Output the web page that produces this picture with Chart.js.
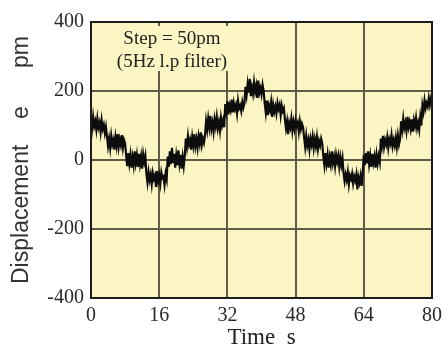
<!DOCTYPE html>
<html>
<head>
<meta charset="utf-8">
<script src="https://cdn.jsdelivr.net/npm/chart.js@4"></script>
<style>
  html, body { margin: 0; padding: 0; background: #fff; }
  #wrap { width: 448px; height: 347px; }
</style>
</head>
<body>
<div id="wrap"><canvas id="myChart" width="448" height="347"></canvas></div>
<script>
// 采样间隔 (s)
const sampleStep = 0.25;

// 位移数据 (pm)，每 0.25 s 一个点，按台阶分行
const displacement = [
  118, 92, 125, 98, 112, 88, 120, 95, 108, 82, 115, 90, 102, 78, 96,
  68, 40, 62, 35, 70, 45, 58, 30, 66, 42, 75, 38, 60, 44, 72, 36, 58, 48,
  12, -18, 20, -10, 15, -22, 8, -15, 25, -8, 14, -20, 18, -12, 10, -25, 16, -5, 12,
  -40, -65, -35, -58, -42, -70, -38, -55, -45, -78, -32, -60, -44, -68, -36, -52, -48, -72, -40, -56,
  10, -20, 25, -12, 35, -8, 18, -22, 12, -15, 28, -10, 15, -25, 8, -18, 12,
  62, 38, 70, 45, 58, 30, 66, 42, 75, 40, 60, 35, 68, 48, 80, 44, 62, 50, 72,
  112, 88, 120, 95, 128, 90, 108, 82, 118, 98, 125, 92, 110, 85, 122, 100, 115, 95,
  162, 140, 170, 132, 158, 145, 175, 138, 165, 148, 160, 135, 172, 150, 158, 142, 168, 152, 165,
  212, 188, 220, 195, 235, 185, 210, 192, 225, 198, 215, 180, 230, 195, 208, 190, 218, 200,
  165, 138, 172, 130, 158, 145, 168, 125, 160, 140, 155, 135, 165, 148, 160, 130, 158, 142, 150,
  118, 92, 112, 75, 108, 95, 120, 85, 110, 90, 115, 98, 108, 82, 112, 90, 105, 95,
  65, 38, 70, 42, 58, 30, 62, 45, 68, 35, 60, 40, 66, 32, 55, 42, 62, 48,
  12, -15, 20, -10, 15, -22, 8, -12, 25, -8, 10, -18, 15, -5, 12, -20, 8, -15, 5,
  -38, -62, -42, -58, -35, -70, -45, -55, -40, -68, -48, -60, -42, -85, -50, -65, -45, -75, -40,
  15, -15, 20, -10, 25, -12, 12, -20, 18, -8, 10, -22, 15, -10, 12, -5,
  62, 40, 70, 38, 58, 45, 66, 35, 60, 48, 72, 40, 58, 42, 65, 38, 70, 45, 60,
  112, 88, 120, 92, 108, 85, 125, 95, 110, 90, 118, 82, 115, 98, 122, 92, 108, 88, 125, 100,
  158, 140, 172, 150, 165, 155, 180, 160, 178, 165
];

// 坐标轴
const xTicks = [0, 16, 32, 48, 64, 80];
const yTicks = [-400, -200, 0, 200, 400];
const noteLines = ['Step = 50pm', '(5Hz l.p filter)'];

const points = displacement.map((v, i) => ({ x: i * sampleStep, y: v }));

// 背景、注释和边框
const paperPlugin = {
  id: 'paper',
  beforeDraw(chart) {
    const { ctx, chartArea: a } = chart;
    ctx.save();
    ctx.fillStyle = '#faf5c2';
    ctx.fillRect(a.left, a.top, a.right - a.left, a.bottom - a.top);
    ctx.restore();
  },
  beforeDatasetsDraw(chart) {
    const { ctx, chartArea: a } = chart;
    ctx.save();
    ctx.fillStyle = '#faf5c2';
    ctx.fillRect(a.left + 20, a.top + 4, 121, 45);
    ctx.fillStyle = '#222';
    ctx.font = '19px "Liberation Serif", "Times New Roman", serif';
    ctx.textAlign = 'center';
    ctx.textBaseline = 'middle';
    ctx.fillText(noteLines[0], a.left + 81, a.top + 17);
    ctx.fillText(noteLines[1], a.left + 81, a.top + 40);
    ctx.restore();
  },
  afterDraw(chart) {
    const { ctx, chartArea: a } = chart;
    ctx.save();
    ctx.strokeStyle = '#1c1c1c';
    ctx.lineWidth = 2;
    ctx.strokeRect(a.left, a.top, a.right - a.left, a.bottom - a.top);
    ctx.restore();
  }
};

document.addEventListener('DOMContentLoaded', () => {
  const ctx = document.getElementById('myChart');
  new Chart(ctx, {
    type: 'line',
    data: {
      datasets: [{
        data: points,
        borderColor: '#0d0d0d',
        borderWidth: 2.2,
        pointRadius: 0,
        tension: 0,
        fill: false
      }]
    },
    options: {
      responsive: false,
      animation: false,
      layout: { padding: { left: 0, right: 11, top: 22, bottom: 0 } },
      plugins: {
        legend: { display: false },
        tooltip: { enabled: false }
      },
      scales: {
        x: {
          type: 'linear',
          min: 0,
          max: 80,
          afterBuildTicks: (s) => { s.ticks = xTicks.map(v => ({ value: v })); },
          afterFit: (s) => { s.height = 49; },
          ticks: {
            color: '#2a2a2a',
            padding: 6,
            maxRotation: 0,
            font: { family: '"Liberation Serif", "Times New Roman", serif', size: 20 }
          },
          grid: { color: '#5f5a47', lineWidth: 2, drawTicks: false },
          border: { display: false },
          title: {
            display: true,
            text: 'Time\u00a0\u00a0s',
            color: '#222',
            padding: 0,
            font: { family: '"Liberation Serif", "Times New Roman", serif', size: 23, lineHeight: 0.8 }
          }
        },
        y: {
          min: -400,
          max: 400,
          afterBuildTicks: (s) => { s.ticks = yTicks.map(v => ({ value: v })); },
          afterFit: (s) => { s.width = 91; },
          ticks: {
            color: '#2a2a2a',
            padding: 7,
            font: { family: '"Liberation Serif", "Times New Roman", serif', size: 20 }
          },
          grid: { color: '#5f5a47', lineWidth: 2, drawTicks: false },
          border: { display: false },
          title: {
            display: true,
            text: 'Displacement\u00a0\u00a0\u00a0\u00a0e\u00a0\u00a0\u00a0\u00a0\u00a0\u00a0pm',
            color: '#333',
            padding: { top: 8, bottom: 0 },
            font: { family: '"Liberation Sans", Arial, sans-serif', size: 23 }
          }
        }
      }
    },
    plugins: [paperPlugin]
  });
});
</script>
</body>
</html>
